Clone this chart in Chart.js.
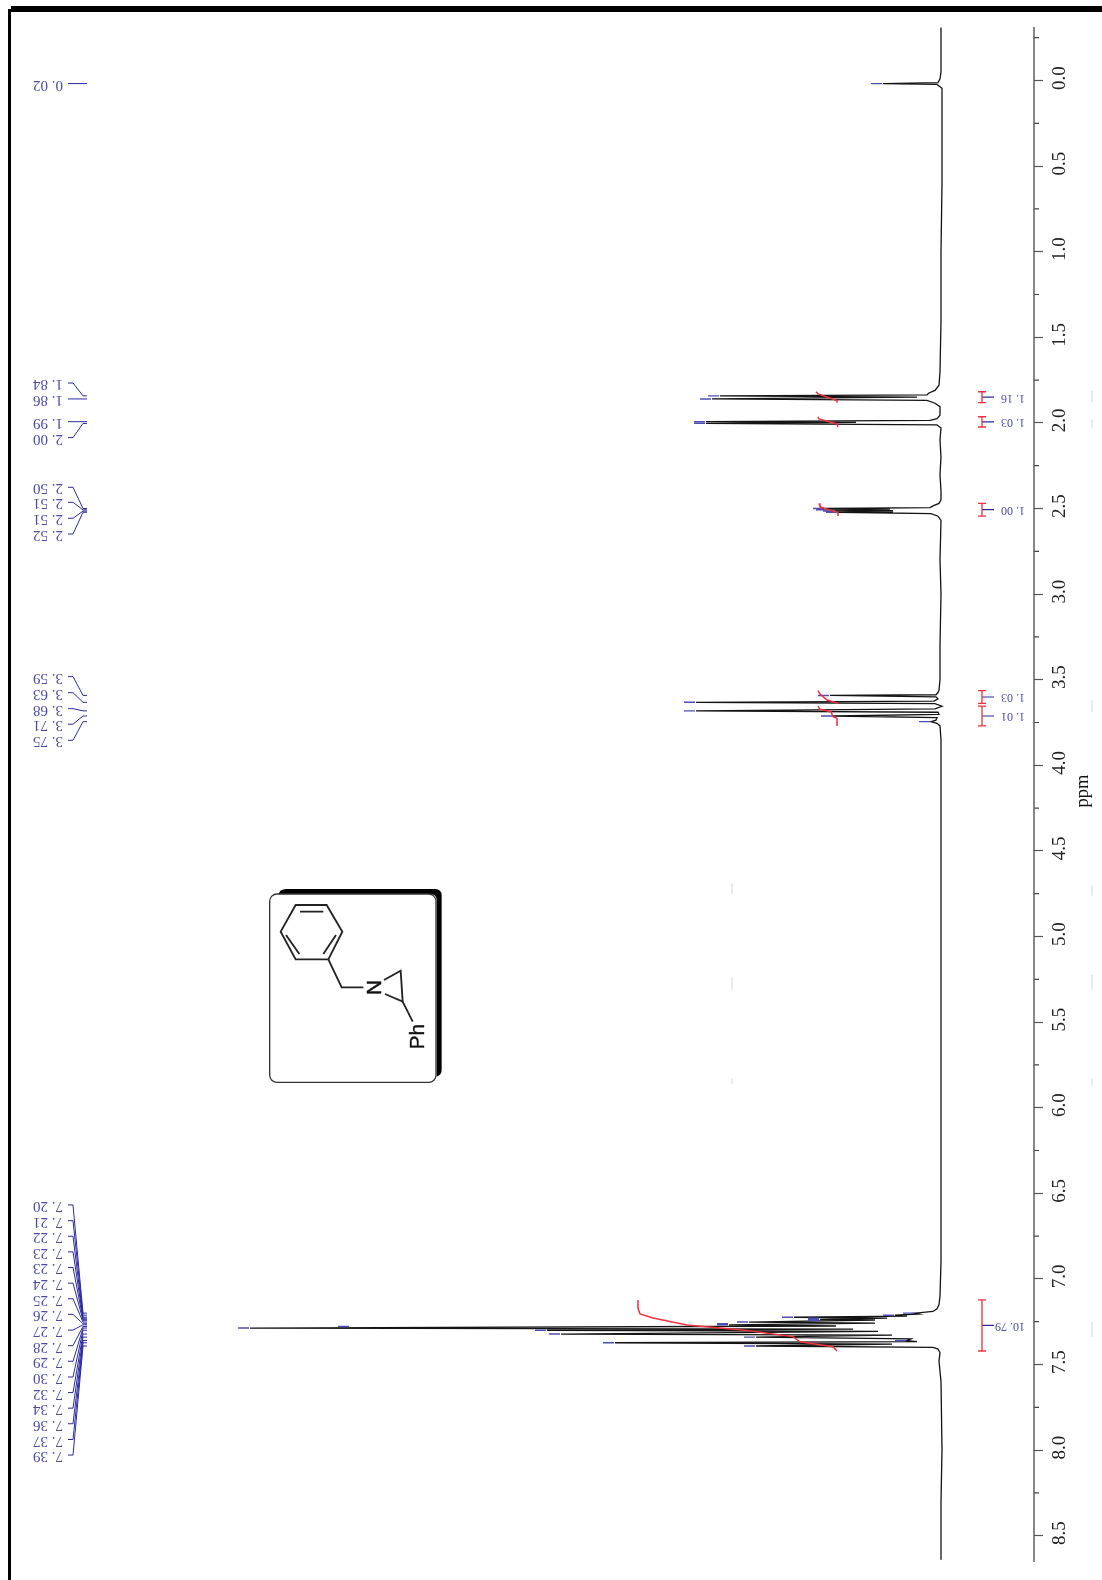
<!DOCTYPE html>
<html>
<head>
<meta charset="utf-8">
<script src="https://cdn.jsdelivr.net/npm/chart.js@4"></script>
<style>
html,body{margin:0;padding:0;background:#fff;width:1102px;height:1580px;overflow:hidden}
#wrap{position:relative;width:1102px;height:1580px}
canvas{position:absolute;left:0;top:0;filter:blur(.35px)}
.bar{position:absolute;background:#000}
#mol{position:absolute;left:260px;top:880px;filter:blur(.35px)}
</style>
</head>
<body>
<div id="wrap">
<canvas id="c" width="1102" height="1580"></canvas>
<div class="bar" style="left:11px;top:6px;right:0;height:6px"></div>
<div class="bar" style="left:8px;top:9px;width:3px;bottom:0"></div>
<svg id="mol" width="190" height="210" viewBox="0 0 570 630">
  <path d="M55 45 Q58 27 78 27 H525 Q545 27 545 47 V570 Q545 585 530 590 V60 Q530 42 510 42 H55 Z" fill="#000"/>
  <rect x="29" y="42" width="499" height="565" rx="22" fill="#fff" stroke="#333" stroke-width="4"/>
  <g fill="none" stroke="#222" stroke-width="5.5">
    <path d="M107 75 H200 L247 155 L205 238 H107 L62 155 Z"/>
    <path d="M120 95 H190 M78 165 L118 222 M228 165 L190 222"/>
    <path d="M205 238 L245 322 H310"/>
    <path d="M372 300 L422 272 L428 365 L375 342"/>
    <path d="M428 365 L458 425"/>
  </g>
  <text transform="translate(343 322) rotate(90)" text-anchor="middle" dominant-baseline="central" font-family="Liberation Sans" font-size="62" stroke="#111" stroke-width="1.5" fill="#111">N</text>
  <text transform="translate(491 470) rotate(-90)" text-anchor="middle" font-family="Liberation Sans" font-size="62" stroke="#111" stroke-width="1" fill="#111" dominant-baseline="auto">Ph</text>
</svg>
</div>
<script>
// ---- axis
const majorTicks = [0,0.5,1,1.5,2,2.5,3,3.5,4,4.5,5,5.5,6,6.5,7,7.5,8,8.5];
const minorTicks = [-0.25,0.25,0.75,1.25,1.75,2.25,2.75,3.25,3.75,4.25,4.75,5.25,5.75,6.25,6.75,7.25,7.75,8.25];
const axisTitle = 'ppm';

// ---- spectrum trace: chemical shift (ppm) and signal height
const specPpm = [-0.31,-0.05,-0.01,0.012,0.018,0.023,0.045,0.30,0.60,1.00,1.40,1.70,1.78,1.81,1.825,1.836,1.842,1.850,1.860,1.868,1.885,1.905,1.955,1.975,1.985,1.993,1.997,2.003,2.012,2.03,2.10,2.20,2.30,2.40,2.45,2.47,2.485,2.495,2.500,2.504,2.508,2.512,2.515,2.519,2.522,2.530,2.545,2.57,2.80,3.00,3.30,3.50,3.56,3.575,3.588,3.592,3.600,3.612,3.625,3.632,3.640,3.655,3.670,3.682,3.690,3.702,3.712,3.722,3.736,3.745,3.755,3.77,3.85,4.20,4.60,5.00,5.50,6.00,6.50,6.90,7.10,7.15,7.175,7.19,7.200,7.205,7.212,7.218,7.224,7.229,7.236,7.240,7.252,7.258,7.268,7.275,7.287,7.293,7.300,7.306,7.322,7.328,7.340,7.350,7.360,7.366,7.373,7.381,7.392,7.400,7.41,7.43,7.48,7.60,8.00,8.30,8.64];
const specInt = [0,0,1,3,58,4,-1,-1,-1,0,0,1,2,6,12,14,221,24,229,14,6,1,1,4,11,235,85,235,4,0,1,0,1,0,0,2,8,11,116,51,113,48,106,48,103,10,3,0,1,0,1,1,2,3,5,111,5,3,7,245,6,-1,6,245,3,2,108,4,5,10,4,1,0,0,0,0,0,0,0,0,1,2,4,8,26,22,46,34,147,54,121,66,192,66,212,105,691,88,394,63,380,49,185,30,34,24,326,49,185,8,3,1,2,0,-1,0,0];

// ---- peak picking
const peakPpm = [0.018,1.842,1.860,1.993,2.003,2.500,2.508,2.515,2.522,3.592,3.632,3.682,3.712,3.745,7.200,7.212,7.224,7.229,7.236,7.242,7.252,7.262,7.268,7.278,7.287,7.300,7.322,7.340,7.360,7.373,7.392];
const peakTop = [58,221,229,235,235,116,113,106,103,111,245,245,108,10,26,46,147,121,121,121,192,212,212,591,691,394,380,185,34,326,185];
const peakLabels = ['0. 02','1. 84','1. 86','1. 99','2. 00','2. 50','2. 51','2. 51','2. 52','3. 59','3. 63','3. 68','3. 71','3. 75','7. 20','7. 21','7. 22','7. 23','7. 23','7. 24','7. 25','7. 26','7. 27','7. 28','7. 29','7. 30','7. 32','7. 34','7. 36','7. 37','7. 39'];
const peakLabelRow = [0.018,1.767,1.860,1.993,2.086,2.376,2.464,2.557,2.649,3.482,3.576,3.669,3.760,3.854,6.568,6.660,6.751,6.842,6.933,7.025,7.116,7.207,7.299,7.390,7.481,7.573,7.664,7.755,7.846,7.938,8.029];

// ---- integrals
const integralValues = ['1. 16','1. 03','1. 00','1. 03','1. 01','10. 79'];
const integralPpm = [
  [1.818,1.831,1.870,1.882],
  [1.964,1.977,2.006,2.024],
  [2.470,2.489,2.525,2.544],
  [3.564,3.584,3.619,3.638],
  [3.654,3.673,3.687,3.716,3.725,3.770],
  [7.123,7.170,7.205,7.228,7.269,7.302,7.337,7.367,7.396,7.421]
];
const integralCurve = [
  [125,123,104,104],
  [123,122,104,103],
  [122,121,103,103],
  [123,121,114,103],
  [123,121,110,108,104,104],
  [303,303,301,288,254,194,148,141,108,104]
];

// ---- faint scan specks
const speckRuns = [[1.81,1.88],[1.98,2.03],[3.62,3.69],[4.70,4.76],[5.22,5.31],[5.83,5.87],[7.25,7.34]];
const speckRunsMid = [[4.69,4.75],[5.24,5.31],[5.83,5.86]];

// ---- layout constants (scale units)
const X_LABEL = 878, X_TAG0 = 873, X_TAG1 = 868, X_TAG2 = 858, X_TAG3 = 854;
const X_BAR = -41, CAP = 4, X_BARTICK = -53, X_INT_LABEL = -84;
const X_AXIS = -93, X_MINOR_TICK = -98;
const Y_MIN = -0.3125, Y_MAX = 8.6536;
const DASH_GAP = 1, DASH_LEN = 11;
const GAP = {x:null,y:null};

const NAVY='#2a2aa0', BLUE='#4d4db4', RED='#f0303c', INK='#141414';

function line(data,color,width,extra){
  return Object.assign({data,borderColor:color,borderWidth:width,showLine:true,pointRadius:0,tension:0,spanGaps:false},extra||{});
}
const specData = specPpm.map((p,i)=>({x:specInt[i],y:p}));
const tagData=[], dashData=[];
peakPpm.forEach((p,i)=>{
  tagData.push({x:X_TAG0,y:peakLabelRow[i]},{x:X_TAG1,y:peakLabelRow[i]},{x:X_TAG2,y:p},{x:X_TAG3,y:p},GAP);
  dashData.push({x:peakTop[i]+DASH_GAP,y:p},{x:peakTop[i]+DASH_GAP+DASH_LEN,y:p},GAP);
});
const barData=[], barTick=[], barMid=[];
integralPpm.forEach(ps=>{
  const a=ps[0], b=ps[ps.length-1], m=(a+b)/2;
  barData.push({x:X_BAR+CAP,y:a},{x:X_BAR-CAP,y:a},GAP,{x:X_BAR,y:a},{x:X_BAR,y:b},GAP,{x:X_BAR+CAP,y:b},{x:X_BAR-CAP,y:b},GAP);
  barTick.push({x:X_BAR,y:m},{x:X_BARTICK,y:m},GAP);
  barMid.push(m);
});
const curveData=[];
integralPpm.forEach((ps,k)=>{ps.forEach((p,i)=>curveData.push({x:integralCurve[k][i],y:p}));curveData.push(GAP);});
const speckData=[];
speckRuns.forEach(r=>speckData.push({x:-151,y:r[0]},{x:-151,y:r[1]},GAP));
speckRunsMid.forEach(r=>speckData.push({x:209,y:r[0]},{x:209,y:r[1]},GAP));
const minorTickData=[];
minorTicks.forEach(v=>minorTickData.push({x:X_AXIS,y:v},{x:X_MINOR_TICK,y:v},GAP));
const axisData=[{x:X_AXIS,y:Y_MIN},{x:X_AXIS,y:Y_MAX}];

const textPlugin={
  id:'rotatedText',
  afterDraw(chart){
    const {ctx,scales:{x,y}}=chart;
    ctx.save();
    ctx.textBaseline='middle'; ctx.textAlign='left';
    ctx.fillStyle='#4b4ba6';
    ctx.font='15px "Liberation Serif"';
    peakLabels.forEach((t,i)=>{
      ctx.save();
      ctx.translate(x.getPixelForValue(X_LABEL),y.getPixelForValue(peakLabelRow[i])+1);
      ctx.rotate(Math.PI);
      ctx.fillText(t,0,0);
      ctx.restore();
    });
    ctx.font='12px "Liberation Serif"';
    integralValues.forEach((t,i)=>{
      ctx.save();
      ctx.translate(x.getPixelForValue(X_INT_LABEL),y.getPixelForValue(barMid[i])+0.5);
      ctx.rotate(Math.PI);
      ctx.fillText(t,0,0);
      ctx.restore();
    });
    ctx.font='18.5px "Liberation Serif"';
    ctx.fillStyle='#111';
    ctx.textAlign='center';
    ctx.translate(1083,y.getPixelForValue(4.15));
    ctx.rotate(-Math.PI/2);
    ctx.fillText(axisTitle,0,0);
    ctx.restore();
  }
};

new Chart(document.getElementById('c'),{
  type:'scatter',
  data:{datasets:[
    line(curveData,RED,1.5),
    line(barData,RED,1.3),
    line(barTick,NAVY,1.2),
    line(tagData,NAVY,1,{clip:false}),
    line(dashData,BLUE,1.4),
    line(specData,INK,1.3),
    line(axisData,'#555',1.4,{clip:false}),
    line(minorTickData,'#444',1.2,{clip:false}),
    line(speckData,'#dcdcdc',1.2,{clip:false})
  ]},
  options:{
    responsive:false,animation:false,devicePixelRatio:1,
    layout:{autoPadding:false,padding:{left:0,right:8,top:27,bottom:18}},
    plugins:{legend:{display:false},title:{display:false},tooltip:{enabled:false}},
    scales:{
      x:{type:'linear',display:false,reverse:true,min:X_AXIS,max:941},
      y:{
        type:'linear',position:'right',reverse:true,min:Y_MIN,max:Y_MAX,
        afterBuildTicks:s=>{s.ticks=majorTicks.map(v=>({value:v}));},
        afterFit:s=>{s.width=60;},
        ticks:{
          minRotation:90,maxRotation:90,crossAlign:'center',padding:5,labelOffset:-2.5,
          color:'#222',font:{family:'Liberation Serif',size:19},
          autoSkip:false,callback:v=>v.toFixed(1)
        },
        border:{display:false},
        grid:{drawOnChartArea:false,drawTicks:true,tickLength:9,tickWidth:1.2,tickColor:'#555'}
      }
    }
  },
  plugins:[textPlugin]
});
</script>
</body>
</html>
